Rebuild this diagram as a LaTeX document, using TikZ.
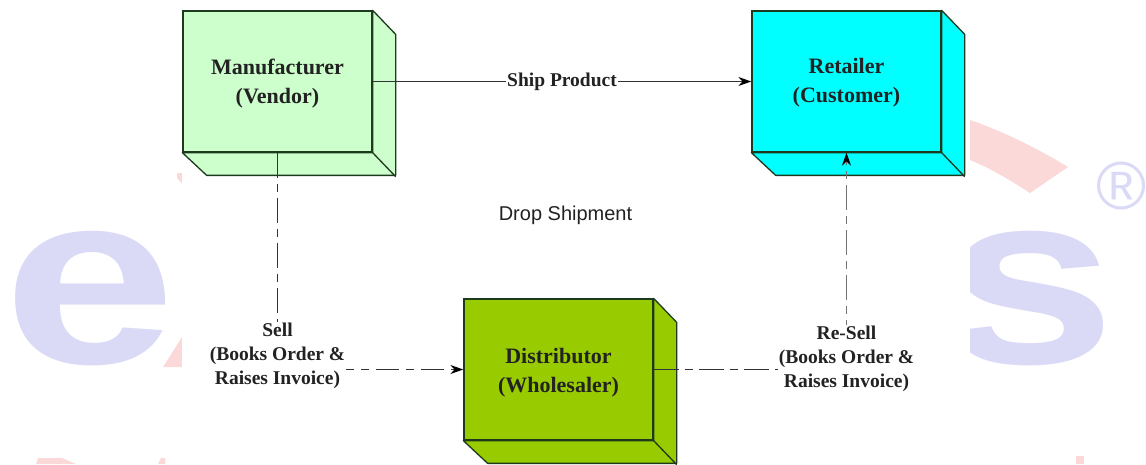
\documentclass[tikz,border=0pt]{standalone}
\usepackage{fontspec}
\setmainfont{Liberation Serif}
\newfontfamily\arialfont{Liberation Sans}
\usetikzlibrary{arrows.meta,calc}
\definecolor{wmblue}{HTML}{DADAF7}
\definecolor{wmred}{HTML}{FBD9D9}
\definecolor{edgegreen}{HTML}{1E3A1E}
\definecolor{inkdark}{HTML}{222222}
\definecolor{mangreen}{RGB}{204,255,204}
\definecolor{retcyan}{RGB}{0,255,255}
\definecolor{disgreen}{RGB}{153,204,0}
\tikzset{
  x=1pt,y=-1pt,
  cubefront/.style={draw=edgegreen,line width=1.3pt,minimum width=189pt,minimum height=141pt,inner sep=0pt,align=center,text=inkdark,font=\bfseries\fontsize{22}{29}\selectfont},
  cubeface/.style={draw=edgegreen,line width=1.3pt,line join=round},
  lbl/.style={inner sep=1pt,align=center,text=inkdark,font=\bfseries\fontsize{19.5}{24}\selectfont},
  link/.style={line width=1.3pt,draw=black!80},
  longshort/.style={dash pattern=on 25pt off 6pt on 8pt off 6pt},
  tip/.style={-{Stealth[length=13pt,width=9pt,black]}},
  wmletter/.style={inner sep=0pt,xscale=1.15,yscale=0.91,font=\arialfont\bfseries\fontsize{270}{270}\selectfont}
}
\newcommand{\cubeback}[2]{%
  \fill[#2,cubeface] (#1.north east) -- ++(23,24) -- ++(0,141) -- ++(-189,0) -- (#1.south west) -- (#1.south east) -- cycle;
  \draw[cubeface] (#1.south east) -- ++(23,24);
}
\begin{document}
\begin{tikzpicture}
\useasboundingbox (0,0) rectangle (1146,464);
\fill[white] (0,0) rectangle (1146,464);
% watermark
\begin{scope}
\clip (0,0) rectangle (1146,464);
\fill[wmred] (970,120) .. controls (1005,132) and (1040,150) .. (1068,167) -- (1030,193) .. controls (1010,180) and (990,168) .. (970,160) -- cycle;
\fill[wmred] (177,173) -- (182,173) -- (182,183) -- (177,178) -- cycle;
\fill[wmred] (163,367) -- (182,337) -- (182,367) -- cycle;
\fill[wmred] (36,464) -- (38,458) -- (62,458) -- (76,464) -- cycle;
\fill[wmred] (158,464) -- (161,458) -- (165,458) -- (165,464) -- cycle;
\fill[wmred] (1076,464) -- (1076,456) -- (1084,456) -- (1084,464) -- cycle;
\node[wmletter,text=wmblue] (wme) at (90,299) {e};
\node[wmletter,text=wmblue] (wms) at (1030,299) {s};
\node[inner sep=0pt,text=wmblue,font=\arialfont\fontsize{68}{68}\selectfont] (wmr) at (1122,186) {®};
\fill[white] (182,0) rectangle (970,464);
\end{scope}
% boxes
\node[cubefront] (man) at (277.5,81.5) {};
\node[cubefront] (ret) at (846.5,81.5) {};
\node[cubefront] (dis) at (558.5,369.5) {};
\cubeback{man}{fill=mangreen}
\cubeback{ret}{fill=retcyan}
\cubeback{dis}{fill=disgreen}
\node[cubefront,fill=mangreen] (manf) at (man) {\rule{0pt}{19pt}Manufacturer\\(Vendor)};
\node[cubefront,fill=retcyan] (retf) at (ret) {\rule{0pt}{17pt}Retailer\\(Customer)};
\node[cubefront,fill=disgreen] (disf) at (dis) {\rule{0pt}{21pt}Distributor\\(Wholesaler)};
% labels
\node[lbl] (sell) at (277.5,356) {Sell\\(Books Order \&\\Raises Invoice)};
\node[lbl] (resell) at (846.5,359) {Re-Sell\\(Books Order \&\\Raises Invoice)};
\node[inner sep=0pt,text=inkdark,font=\arialfont\fontsize{20}{24}\selectfont] (title) at (565.5,215) {Drop Shipment};
% connectors
\draw[link,tip] (manf.east) -- node[lbl,fill=white,inner sep=1pt] (ship) {Ship Product} (retf.west);
\draw[link,longshort] (manf.south) -- (sell.north);
\draw[link,tip,dash pattern=on 23pt off 7pt on 8pt off 7pt,dash phase=15pt] (sell.east |- disf.west) -- (disf.west);
\draw[link,longshort] (disf.east) -- (resell.west |- disf.east);
\draw[link,draw=black!55,tip,longshort,dash phase=20pt] (resell.north) -- (retf.south);
\end{tikzpicture}
\end{document}
